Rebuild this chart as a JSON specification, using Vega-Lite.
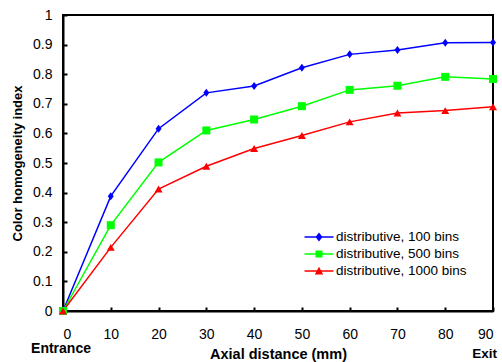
{
  "$schema": "https://vega.github.io/schema/vega-lite/v6.json",
  "width": 430,
  "height": 296,
  "autosize": "none",
  "padding": {"left": 63, "top": 15, "right": 9, "bottom": 51},
  "background": "white",
  "config": {
    "font": "Liberation Sans",
    "view": {"stroke": "black", "strokeWidth": 2},
    "axis": {
      "grid": false,
      "domainColor": "black",
      "domainWidth": 2,
      "tickColor": "black",
      "tickWidth": 2,
      "tickSize": -4,
      "labelOverlap": false,
      "labelFont": "Liberation Sans",
      "labelFontSize": 14,
      "labelColor": "black",
      "titleFont": "Liberation Sans",
      "titleFontSize": 13,
      "titleFontWeight": "bold",
      "titleColor": "black"
    }
  },
  "datasets": {
    "series": [
      {"x": 0, "y": 0, "series": "distributive, 100 bins"},
      {"x": 10, "y": 0.388, "series": "distributive, 100 bins"},
      {"x": 20, "y": 0.616, "series": "distributive, 100 bins"},
      {"x": 30, "y": 0.737, "series": "distributive, 100 bins"},
      {"x": 40, "y": 0.76, "series": "distributive, 100 bins"},
      {"x": 50, "y": 0.822, "series": "distributive, 100 bins"},
      {"x": 60, "y": 0.867, "series": "distributive, 100 bins"},
      {"x": 70, "y": 0.882, "series": "distributive, 100 bins"},
      {"x": 80, "y": 0.906, "series": "distributive, 100 bins"},
      {"x": 90, "y": 0.907, "series": "distributive, 100 bins"},
      {"x": 0, "y": 0, "series": "distributive, 500 bins"},
      {"x": 10, "y": 0.29, "series": "distributive, 500 bins"},
      {"x": 20, "y": 0.502, "series": "distributive, 500 bins"},
      {"x": 30, "y": 0.61, "series": "distributive, 500 bins"},
      {"x": 40, "y": 0.647, "series": "distributive, 500 bins"},
      {"x": 50, "y": 0.692, "series": "distributive, 500 bins"},
      {"x": 60, "y": 0.747, "series": "distributive, 500 bins"},
      {"x": 70, "y": 0.761, "series": "distributive, 500 bins"},
      {"x": 80, "y": 0.791, "series": "distributive, 500 bins"},
      {"x": 90, "y": 0.784, "series": "distributive, 500 bins"},
      {"x": 0, "y": 0, "series": "distributive, 1000 bins"},
      {"x": 10, "y": 0.215, "series": "distributive, 1000 bins"},
      {"x": 20, "y": 0.412, "series": "distributive, 1000 bins"},
      {"x": 30, "y": 0.489, "series": "distributive, 1000 bins"},
      {"x": 40, "y": 0.549, "series": "distributive, 1000 bins"},
      {"x": 50, "y": 0.593, "series": "distributive, 1000 bins"},
      {"x": 60, "y": 0.639, "series": "distributive, 1000 bins"},
      {"x": 70, "y": 0.669, "series": "distributive, 1000 bins"},
      {"x": 80, "y": 0.677, "series": "distributive, 1000 bins"},
      {"x": 90, "y": 0.69, "series": "distributive, 1000 bins"}
    ],
    "entrance": [{"x": 0, "y": 0, "label": "Entrance"}],
    "exit": [{"x": 90, "y": 0, "label": "Exit"}]
  },
  "layer": [
    {
      "data": {"name": "series"},
      "mark": {"type": "line", "strokeWidth": 1.5},
      "encoding": {
        "x": {
          "field": "x", "type": "quantitative",
          "scale": {"domain": [0, 90], "nice": false},
          "axis": {"values": [0, 10, 20, 30, 40, 50, 60, 70, 80, 90], "labelOverlap": false, "labelPadding": 20, "title": "Axial distance (mm)", "titleFontSize": 14.5, "titlePadding": 6}
        },
        "y": {
          "field": "y", "type": "quantitative",
          "scale": {"domain": [0, 1], "nice": false},
          "axis": {"values": [0, 0.1, 0.2, 0.3, 0.4, 0.5, 0.6, 0.7, 0.8, 0.9, 1], "labelOverlap": false, "tickCount": 11, "format": "~g", "labelPadding": 15, "title": "Color homogeneity index", "titlePadding": 8}
        },
        "color": {
          "field": "series", "type": "nominal",
          "scale": {
            "domain": ["distributive, 100 bins", "distributive, 500 bins", "distributive, 1000 bins"],
            "range": ["#0000ff", "#00ff00", "#ff0000"]
          },
          "legend": {
            "title": null,
            "orient": "none",
            "legendX": 249,
            "legendY": 215,
            "padding": 0,
            "rowPadding": 3,
            "symbolSize": 196,
            "labelOffset": 10,
            "labelFont": "Liberation Sans",
            "labelFontSize": 13.5,
            "labelColor": "black",
            "labelLimit": 300,
            "encode": {
              "symbols": {
                "update": {
                  "shape": {"signal": "datum.value === 'distributive, 100 bins' ? 'M-2.07,-0.1H2.07V0.1H-2.07Z M0,-0.65L0.5,0L0,0.65L-0.5,0Z' : datum.value === 'distributive, 500 bins' ? 'M-2.07,-0.1H2.07V0.1H-2.07Z M-0.5,-0.5H0.5V0.5H-0.5Z' : 'M-2.07,-0.1H2.07V0.1H-2.07Z M0,-0.6L0.6,0.5H-0.6Z'"},
                  "fill": {"signal": "scale('color', datum.value)"},
                  "stroke": {"value": "transparent"},
                  "strokeWidth": {"value": 0},
                  "opacity": {"value": 1}
                }
              }
            }
          }
        }
      }
    },
    {
      "data": {"name": "series"},
      "transform": [{"filter": "datum.series === 'distributive, 100 bins'"}],
      "mark": {"type": "point", "filled": true, "opacity": 1, "size": 64, "shape": "M0,-1L0.75,0L0,1L-0.75,0Z", "color": "#0000ff"},
      "encoding": {
        "x": {"field": "x", "type": "quantitative"},
        "y": {"field": "y", "type": "quantitative"}
      }
    },
    {
      "data": {"name": "series"},
      "transform": [{"filter": "datum.series === 'distributive, 500 bins'"}],
      "mark": {"type": "point", "filled": true, "opacity": 1, "size": 64, "shape": "square", "color": "#00ff00"},
      "encoding": {
        "x": {"field": "x", "type": "quantitative"},
        "y": {"field": "y", "type": "quantitative"}
      }
    },
    {
      "data": {"name": "series"},
      "transform": [{"filter": "datum.series === 'distributive, 1000 bins'"}],
      "mark": {"type": "point", "filled": true, "opacity": 1, "size": 64, "shape": "triangle-up", "color": "#ff0000"},
      "encoding": {
        "x": {"field": "x", "type": "quantitative"},
        "y": {"field": "y", "type": "quantitative"}
      }
    },
    {
      "data": {"name": "entrance"},
      "mark": {"type": "text", "align": "center", "baseline": "middle", "dy": 38, "dx": -2, "fontWeight": "bold", "fontSize": 14, "font": "Liberation Sans", "color": "black"},
      "encoding": {
        "x": {"field": "x", "type": "quantitative"},
        "y": {"field": "y", "type": "quantitative"},
        "text": {"field": "label"}
      }
    },
    {
      "data": {"name": "exit"},
      "mark": {"type": "text", "align": "right", "baseline": "middle", "dy": 43, "dx": 4, "fontWeight": "bold", "fontSize": 13.5, "font": "Liberation Sans", "color": "black"},
      "encoding": {
        "x": {"field": "x", "type": "quantitative"},
        "y": {"field": "y", "type": "quantitative"},
        "text": {"field": "label"}
      }
    }
  ]
}
